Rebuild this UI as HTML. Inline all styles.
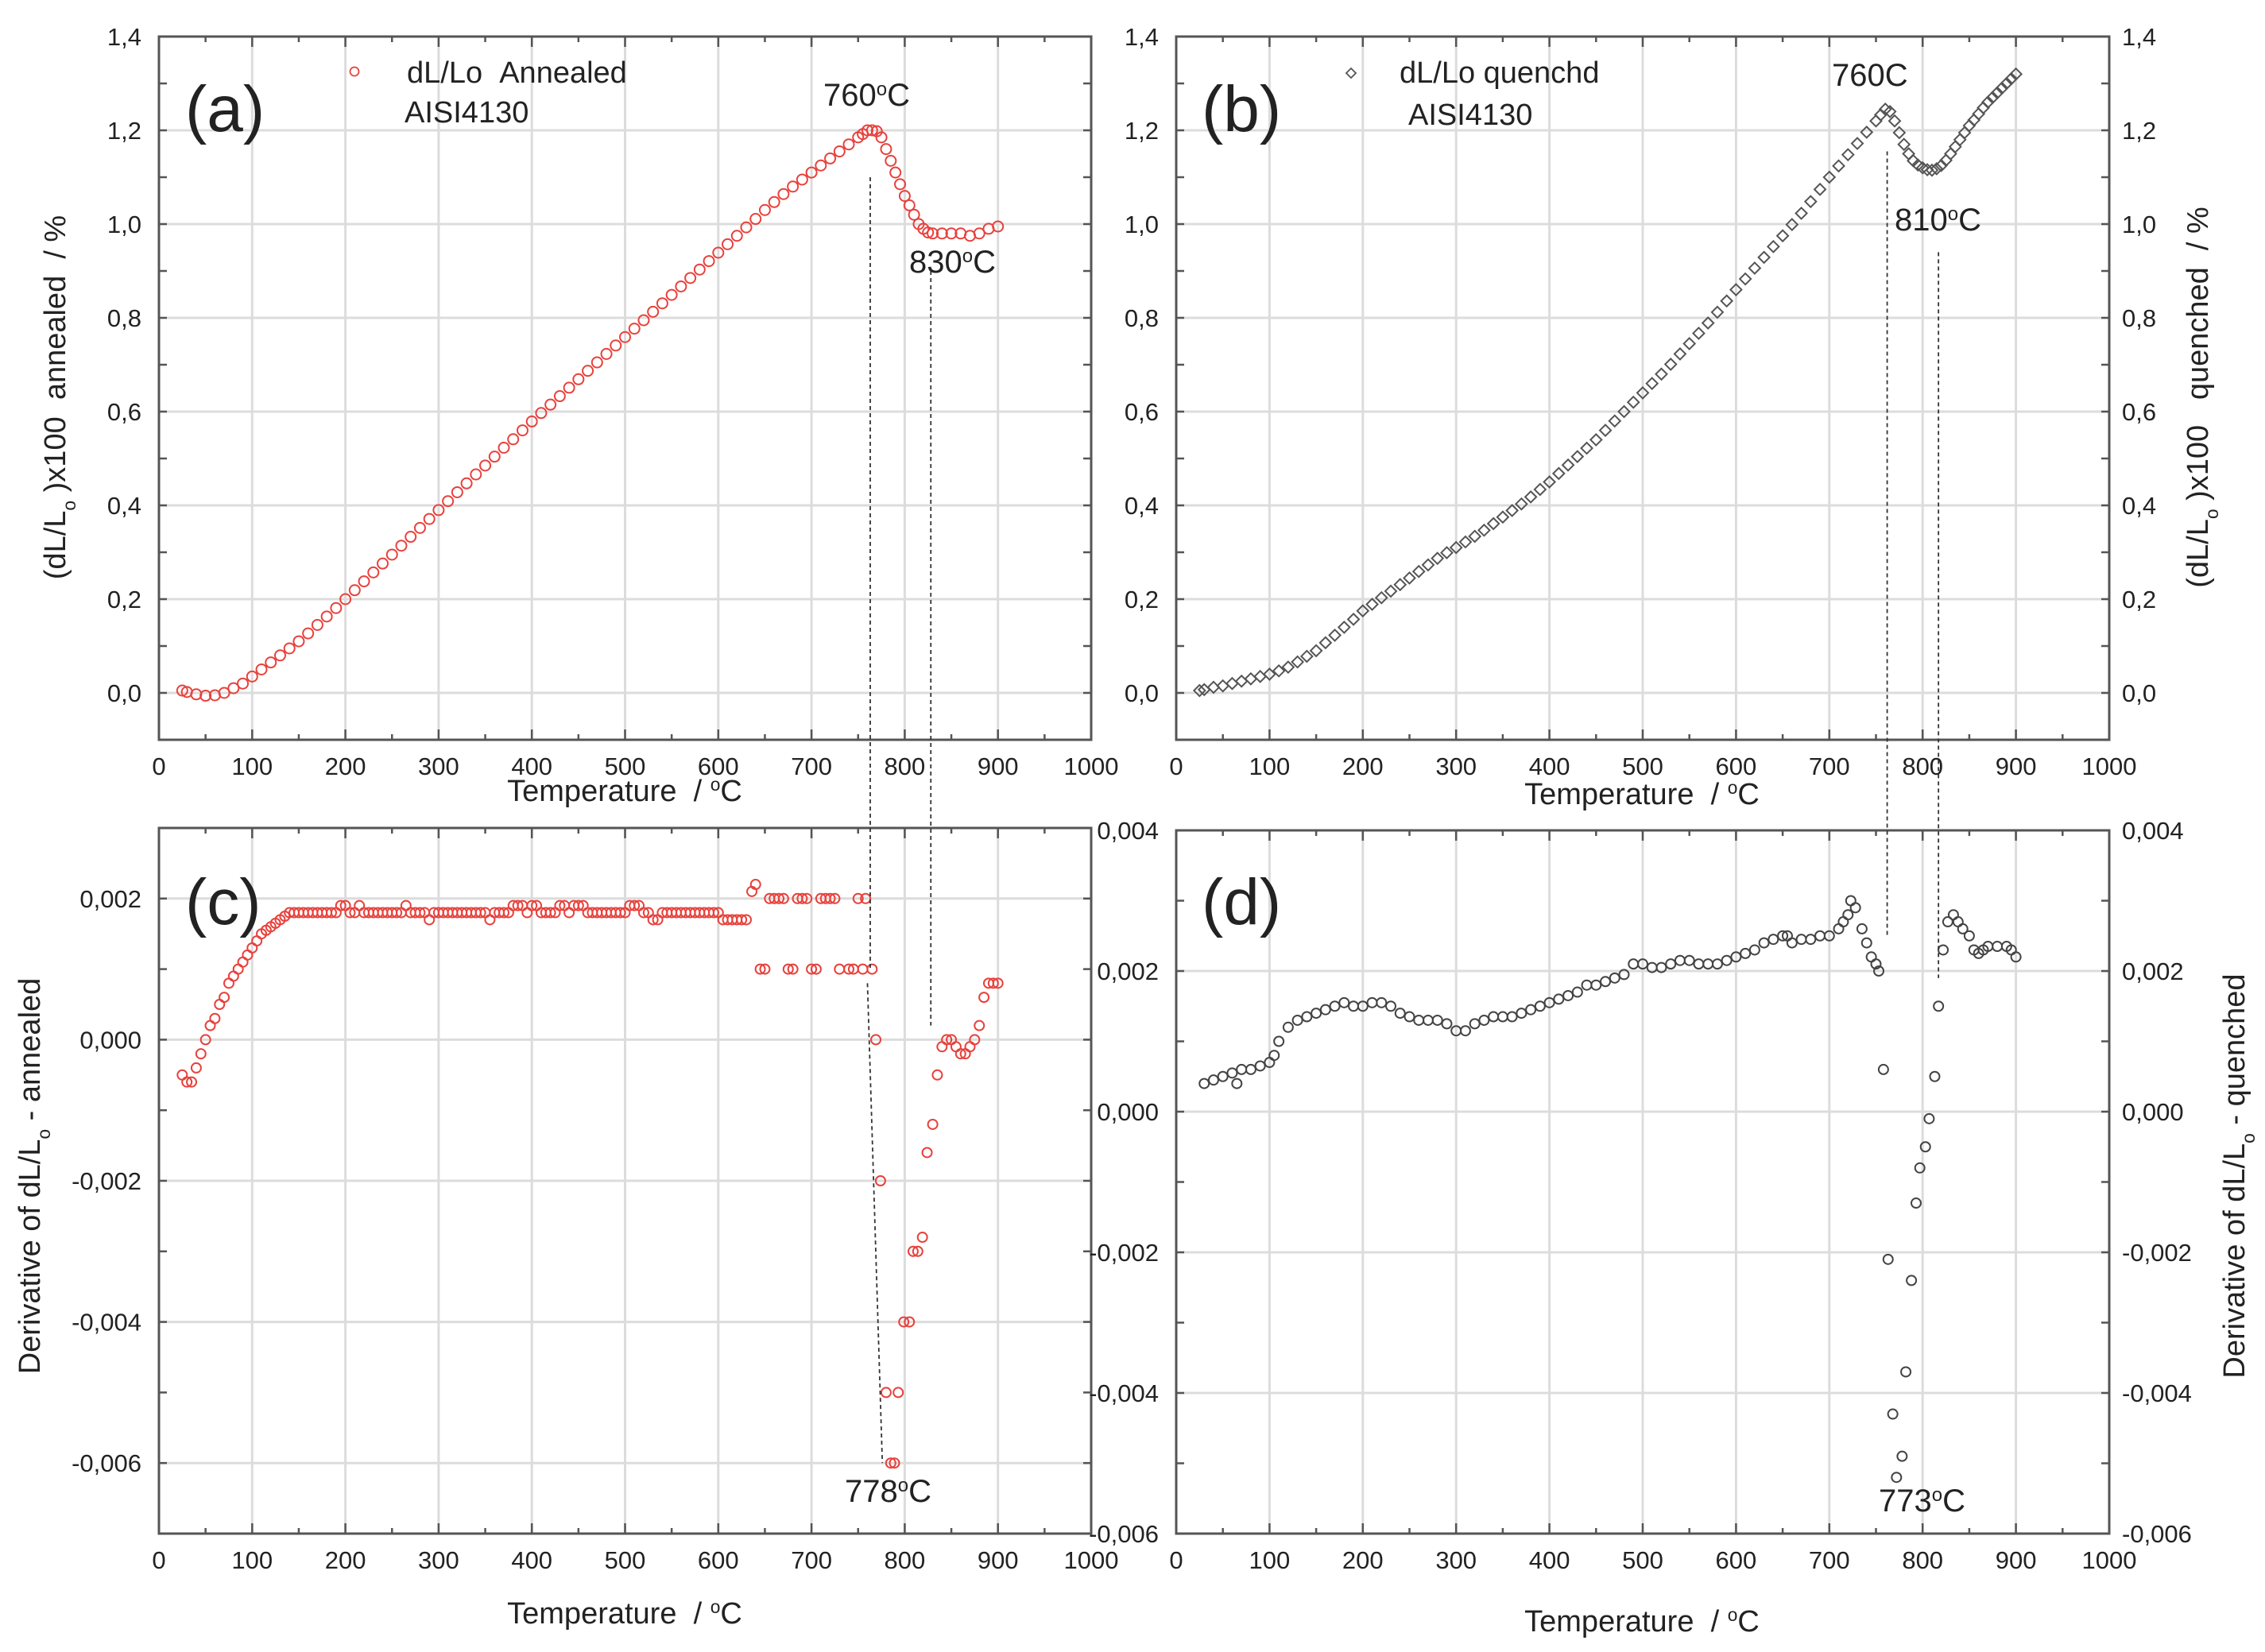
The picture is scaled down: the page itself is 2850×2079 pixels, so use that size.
<!DOCTYPE html>
<html><head><meta charset="utf-8"><style>
html,body{margin:0;padding:0;background:#fff;}
svg{display:block;font-family:"Liberation Sans",Arial,sans-serif;}
</style></head><body>
<svg id="fig" width="2850" height="2079" viewBox="0 0 2850 2079" xmlns="http://www.w3.org/2000/svg"></svg>
<script>
// ---- Panel (a): annealed dL/Lo ----
const aT = [25,30,40,50,60,70,80,90,100,110,120,130,140,150,160,170,180,190,200,210,220,230,240,250,260,270,280,290,300,310,320,330,340,350,360,370,380,390,400,410,420,430,440,450,460,470,480,490,500,510,520,530,540,550,560,570,580,590,600,610,620,630,640,650,660,670,680,690,700,710,720,730,740,750,755,760,765,770,775,780,785,790,795,800,805,810,815,820,825,830,840,850,860,870,880,890,900];
const aV = [0.005,0.002,-0.003,-0.006,-0.005,0.0,0.01,0.02,0.035,0.05,0.065,0.08,0.095,0.11,0.127,0.145,0.163,0.181,0.2,0.219,0.238,0.257,0.276,0.295,0.314,0.333,0.352,0.371,0.39,0.409,0.428,0.447,0.466,0.485,0.504,0.523,0.541,0.56,0.579,0.597,0.615,0.633,0.651,0.669,0.687,0.705,0.723,0.741,0.759,0.777,0.795,0.813,0.831,0.849,0.867,0.885,0.903,0.921,0.939,0.957,0.975,0.993,1.011,1.03,1.047,1.064,1.08,1.095,1.11,1.125,1.14,1.155,1.17,1.185,1.192,1.2,1.2,1.198,1.185,1.16,1.135,1.11,1.085,1.06,1.04,1.02,1.0,0.99,0.982,0.98,0.98,0.98,0.98,0.975,0.98,0.99,0.995];
// ---- Panel (b): quenched dL/Lo ----
const bT = [25,30,40,50,60,70,80,90,100,110,120,130,140,150,160,170,180,190,200,210,220,230,240,250,260,270,280,290,300,310,320,330,340,350,360,370,380,390,400,410,420,430,440,450,460,470,480,490,500,510,520,530,540,550,560,570,580,590,600,610,620,630,640,650,660,670,680,690,700,710,720,730,740,750,755,760,765,770,775,780,785,790,795,800,805,810,815,820,825,830,835,840,845,850,855,860,865,870,875,880,885,890,895,900];
const bV = [0.005,0.007,0.012,0.015,0.02,0.025,0.03,0.035,0.04,0.047,0.055,0.066,0.078,0.09,0.107,0.123,0.14,0.157,0.175,0.189,0.203,0.217,0.231,0.245,0.259,0.273,0.287,0.299,0.31,0.322,0.334,0.347,0.361,0.375,0.389,0.403,0.418,0.434,0.45,0.468,0.486,0.504,0.522,0.54,0.56,0.58,0.6,0.62,0.64,0.66,0.68,0.701,0.723,0.745,0.767,0.789,0.812,0.836,0.86,0.883,0.906,0.929,0.952,0.975,0.999,1.023,1.048,1.074,1.1,1.124,1.148,1.172,1.196,1.22,1.233,1.245,1.24,1.22,1.195,1.17,1.15,1.135,1.126,1.12,1.116,1.115,1.118,1.125,1.136,1.15,1.165,1.18,1.195,1.21,1.222,1.235,1.248,1.26,1.27,1.28,1.29,1.3,1.31,1.32];
// ---- Panel (c): derivative annealed ----
const cT = [25,30,35,40,45,50,55,60,65,70,75,80,85,90,95,100,105,110,115,120,125,130,135,140,145,150,155,160,165,170,175,180,185,190,195,200,205,210,215,220,225,230,235,240,245,250,255,260,265,270,275,280,285,290,295,300,305,310,315,320,325,330,335,340,345,350,355,360,365,370,375,380,385,390,395,400,405,410,415,420,425,430,435,440,445,450,455,460,465,470,475,480,485,490,495,500,505,510,515,520,525,530,535,540,545,550,555,560,565,570,575,580,585,590,595,600,605,610,615,620,625,630,636,640,645,650,655,660,665,670,675,680,685,690,695,700,705,710,715,720,725,730,740,745,750,755,758,765,769,774,780,785,789,793,799,805,809,814,819,824,830,835,840,845,850,855,860,865,870,875,880,885,890,895,900];
const cV = [-0.0005,-0.0006,-0.0006,-0.0004,-0.0002,0.0,0.0002,0.0003,0.0005,0.0006,0.0008,0.0009,0.001,0.0011,0.0012,0.0013,0.0014,0.0015,0.00155,0.0016,0.00165,0.0017,0.00175,0.0018,0.0018,0.0018,0.0018,0.0018,0.0018,0.0018,0.0018,0.0018,0.0018,0.0018,0.0019,0.0019,0.0018,0.0018,0.0019,0.0018,0.0018,0.0018,0.0018,0.0018,0.0018,0.0018,0.0018,0.0018,0.0019,0.0018,0.0018,0.0018,0.0018,0.0017,0.0018,0.0018,0.0018,0.0018,0.0018,0.0018,0.0018,0.0018,0.0018,0.0018,0.0018,0.0018,0.0017,0.0018,0.0018,0.0018,0.0018,0.0019,0.0019,0.0019,0.0018,0.0019,0.0019,0.0018,0.0018,0.0018,0.0018,0.0019,0.0019,0.0018,0.0019,0.0019,0.0019,0.0018,0.0018,0.0018,0.0018,0.0018,0.0018,0.0018,0.0018,0.0018,0.0019,0.0019,0.0019,0.0018,0.0018,0.0017,0.0017,0.0018,0.0018,0.0018,0.0018,0.0018,0.0018,0.0018,0.0018,0.0018,0.0018,0.0018,0.0018,0.0018,0.0017,0.0017,0.0017,0.0017,0.0017,0.0017,0.0021,0.0022,0.001,0.001,0.002,0.002,0.002,0.002,0.001,0.001,0.002,0.002,0.002,0.001,0.001,0.002,0.002,0.002,0.002,0.001,0.001,0.001,0.002,0.001,0.002,0.001,0.0,-0.002,-0.005,-0.006,-0.006,-0.005,-0.004,-0.004,-0.003,-0.003,-0.0028,-0.0016,-0.0012,-0.0005,-0.0001,0.0,0.0,-0.0001,-0.0002,-0.0002,-0.0001,0.0,0.0002,0.0006,0.0008,0.0008,0.0008,0.0008];
// ---- Panel (d): derivative quenched ----
const dT = [30,40,50,60,65,70,80,90,100,105,110,120,130,140,150,160,170,180,190,200,210,220,230,240,250,260,270,280,290,300,310,320,330,340,350,360,370,380,390,400,410,420,430,440,450,460,470,480,490,500,510,520,530,540,550,560,570,580,590,600,610,620,630,640,650,655,660,670,680,690,700,710,715,720,723,728,735,740,745,750,753,758,763,768,772,778,782,788,793,797,803,807,813,817,822,827,833,838,843,850,855,860,865,870,880,890,895,900];
const dV = [0.0004,0.00045,0.0005,0.00055,0.0004,0.0006,0.0006,0.00065,0.0007,0.0008,0.001,0.0012,0.0013,0.00135,0.0014,0.00145,0.0015,0.00155,0.0015,0.0015,0.00155,0.00155,0.0015,0.0014,0.00135,0.0013,0.0013,0.0013,0.00125,0.00115,0.00115,0.00125,0.0013,0.00135,0.00135,0.00135,0.0014,0.00145,0.0015,0.00155,0.0016,0.00165,0.0017,0.0018,0.0018,0.00185,0.0019,0.00195,0.0021,0.0021,0.00205,0.00205,0.0021,0.00215,0.00215,0.0021,0.0021,0.0021,0.00215,0.0022,0.00225,0.0023,0.0024,0.00245,0.0025,0.0025,0.0024,0.00245,0.00245,0.0025,0.0025,0.0026,0.0027,0.0028,0.003,0.0029,0.0026,0.0024,0.0022,0.0021,0.002,0.0006,-0.0021,-0.0043,-0.0052,-0.0049,-0.0037,-0.0024,-0.0013,-0.0008,-0.0005,-0.0001,0.0005,0.0015,0.0023,0.0027,0.0028,0.0027,0.0026,0.0025,0.0023,0.00225,0.0023,0.00235,0.00235,0.00235,0.0023,0.0022];
const xTickLabels = ["0","100","200","300","400","500","600","700","800","900","1000"];
const expTickLabels = ["0,0","0,2","0,4","0,6","0,8","1,0","1,2","1,4"];
const derivCTickLabels = ["-0,006","-0,004","-0,002","0,000","0,002"];
const derivDTickLabels = ["-0,006","-0,004","-0,002","0,000","0,002","0,004"];

const NS = "http://www.w3.org/2000/svg";
const svg = document.getElementById('fig');
function mk(tag, attrs, parent, text){
  const e = document.createElementNS(NS, tag);
  for (const k in attrs) e.setAttribute(k, attrs[k]);
  if (text !== undefined) e.textContent = text;
  (parent||svg).appendChild(e);
  return e;
}
const P = {
  a:{x0:200,x1:1373,yt:46,yb:931,ymin:-0.1,ymax:1.4},
  b:{x0:1480,x1:2654,yt:46,yb:931,ymin:-0.1,ymax:1.4},
  c:{x0:200,x1:1373,yt:1042,yb:1930,ymin:-0.007,ymax:0.003},
  d:{x0:1480,x1:2654,yt:1045,yb:1930,ymin:-0.006,ymax:0.004}
};
function sx(p,v){return p.x0+(v/1000)*(p.x1-p.x0);}
function sy(p,v){return p.yb-(v-p.ymin)/(p.ymax-p.ymin)*(p.yb-p.yt);}

function axes(key, yTicks, yLabels, leftLabels, rightLabels){
  const p=P[key];
  const g=mk('g',{});
  
  
  for(let i=0;i<=10;i++){
    const x=sx(p,i*100);
    const l=mk('line',{x1:x,x2:x,y1:p.yt,y2:p.yb,stroke:'#dcdcdc','stroke-width':3},g);
    
    
  }
  yTicks.forEach(v=>{
    const y=sy(p,v);
    const l=mk('line',{x1:p.x0,x2:p.x1,y1:y,y2:y,stroke:'#dcdcdc','stroke-width':3},g);
    
    
  });
  const fr=mk('rect',{x:p.x0,y:p.yt,width:p.x1-p.x0,height:p.yb-p.yt,fill:'none',stroke:'#555','stroke-width':3},g);
  
  
  for(let i=0;i<=20;i++){
    const x=sx(p,i*50); const len=i%2?7:13;
    mk('line',{x1:x,x2:x,y1:p.yb,y2:p.yb-len,stroke:'#555','stroke-width':2.5},g);
    mk('line',{x1:x,x2:x,y1:p.yt,y2:p.yt+len,stroke:'#555','stroke-width':2.5},g);
  }
  xTickLabels.forEach((t,i)=>{
    const tx=mk('text',{x:sx(p,i*100),y:p.yb+44,'font-size':31,'text-anchor':'middle',fill:'#222'},g,t);
    
    
  });
  const step=yTicks[1]-yTicks[0];
  for(let v=p.ymin; v<=p.ymax+1e-9; v+=step/2){
    const y=sy(p,v);
    mk('line',{x1:p.x0,x2:p.x0+10,y1:y,y2:y,stroke:'#555','stroke-width':2.5},g);
    mk('line',{x1:p.x1,x2:p.x1-10,y1:y,y2:y,stroke:'#555','stroke-width':2.5},g);
  }
  yTicks.forEach((v,i)=>{
    const y=sy(p,v)+11;
    if(leftLabels){
      const t=mk('text',{x:p.x0-22,y:y,'font-size':31,'text-anchor':'end',fill:'#222'},g,yLabels[i]);
      
      
    }
    if(rightLabels){
      const t=mk('text',{x:p.x1+16,y:y,'font-size':31,'text-anchor':'start',fill:'#222'},g,yLabels[i]);
      
      
    }
  });
}
axes('a',[0,0.2,0.4,0.6,0.8,1.0,1.2,1.4],expTickLabels,true,false);
axes('b',[0,0.2,0.4,0.6,0.8,1.0,1.2,1.4],expTickLabels,true,true);
axes('c',[-0.006,-0.004,-0.002,0,0.002],derivCTickLabels,true,false);
axes('d',[-0.006,-0.004,-0.002,0,0.002,0.004],derivDTickLabels,true,true);

function series(key,T,V,color,shape,name,r){
  const p=P[key];
  const g=mk('g',{fill:'none',stroke:color,'stroke-width':2});
  
  
  T.forEach((t,i)=>{
    const x=sx(p,t), y=sy(p,V[i]);
    let m;
    if(shape==='diamond') m=mk('path',{d:`M${x} ${y-r}L${x+r} ${y}L${x} ${y+r}L${x-r} ${y}Z`},g);
    else m=mk('circle',{cx:x,cy:y,r:r},g);
    
    
  });
}
series('a',aT,aV,'#e8413c','circle','annealed-expansion-series',6.5);
series('b',bT,bV,'#555','diamond','quenched-expansion-series',7);
series('c',cT,cV,'#e8413c','circle','annealed-derivative-series',6);
series('d',dT,dV,'#444','circle','quenched-derivative-series',6);

function dash(x1,y1,x2,y2,name){
  const l=mk('line',{x1,y1,x2,y2,stroke:'#333','stroke-width':1.8,'stroke-dasharray':'5,4'});
  
  
}
dash(sx(P.a,763),sy(P.a,1.1),sx(P.a,763),sy(P.c,0.001),'guide-760-annealed');
dash(sx(P.a,760),sy(P.c,0.0008),sx(P.a,776),sy(P.c,-0.006),'guide-778-annealed');
dash(sx(P.a,828),sy(P.a,0.9),sx(P.a,828),sy(P.c,0.0002),'guide-830-annealed');
dash(sx(P.b,762),sy(P.b,1.155),sx(P.b,762),sy(P.d,0.0025),'guide-760-quenched');
dash(sx(P.b,817),sy(P.b,0.94),sx(P.b,817),sy(P.d,0.0019),'guide-810-quenched');

function txt(x,y,size,html,name,extra){
  const t=mk('text',Object.assign({x,y,'font-size':size,fill:'#222'},extra||{}));
  t.innerHTML=html;
  
  
  return t;
}
const deg='<tspan baseline-shift="super" font-size="60%">o</tspan>';
txt(233,165,82,'(a)','panel-label-a');
txt(1512,165,82,'(b)','panel-label-b');
txt(233,1163,82,'(c)','panel-label-c');
txt(1512,1163,82,'(d)','panel-label-d');
txt(786,1008,38,'Temperature &#160;/ '+deg+'C','x-axis-title-a',{'text-anchor':'middle'});
txt(2066,1012,38,'Temperature &#160;/ '+deg+'C','x-axis-title-b',{'text-anchor':'middle'});
txt(786,2043,38,'Temperature &#160;/ '+deg+'C','x-axis-title-c',{'text-anchor':'middle'});
txt(2066,2053,38,'Temperature &#160;/ '+deg+'C','x-axis-title-d',{'text-anchor':'middle'});
txt(0,0,38,'(dL/L<tspan baseline-shift="sub" font-size="60%">o</tspan> )x100 &#160;annealed &#160;/ %','y-axis-title-a',{transform:'translate(82,500) rotate(-90)','text-anchor':'middle'});
txt(0,0,38,'(dL/L<tspan baseline-shift="sub" font-size="60%">o</tspan> )x100 &#160; quenched &#160;/ %','y-axis-title-b',{transform:'translate(2778,500) rotate(-90)','text-anchor':'middle'});
txt(0,0,38,'Derivative of dL/L<tspan baseline-shift="sub" font-size="60%">o</tspan> - annealed','y-axis-title-c',{transform:'translate(50,1480) rotate(-90)','text-anchor':'middle'});
txt(0,0,38,'Derivative of dL/L<tspan baseline-shift="sub" font-size="60%">o</tspan> - quenched','y-axis-title-d',{transform:'translate(2824,1480) rotate(-90)','text-anchor':'middle'});
const lg1=mk('circle',{cx:446,cy:90,r:5.5,fill:'none',stroke:'#e8413c','stroke-width':1.8});


txt(512,104,38,'dL/Lo &#160;Annealed','legend-text-annealed');
txt(509,154,38,'AISI4130','legend-subtext-annealed');
const lg2=mk('path',{d:'M1700 86L1706 92L1700 98L1694 92Z',fill:'none',stroke:'#555','stroke-width':1.8});


txt(1761,104,38,'dL/Lo quenchd','legend-text-quenched');
txt(1772,157,38,'AISI4130','legend-subtext-quenched');
txt(1036,133,40,'760'+deg+'C','annotation-760-a');
txt(1144,343,40,'830'+deg+'C','annotation-830-a');
txt(2305,108,40,'760C','annotation-760-b');
txt(2384,290,40,'810'+deg+'C','annotation-810-b');
txt(1063,1890,40,'778'+deg+'C','annotation-778-c');
txt(2364,1902,40,'773'+deg+'C','annotation-773-d');
</script>
</body></html>
